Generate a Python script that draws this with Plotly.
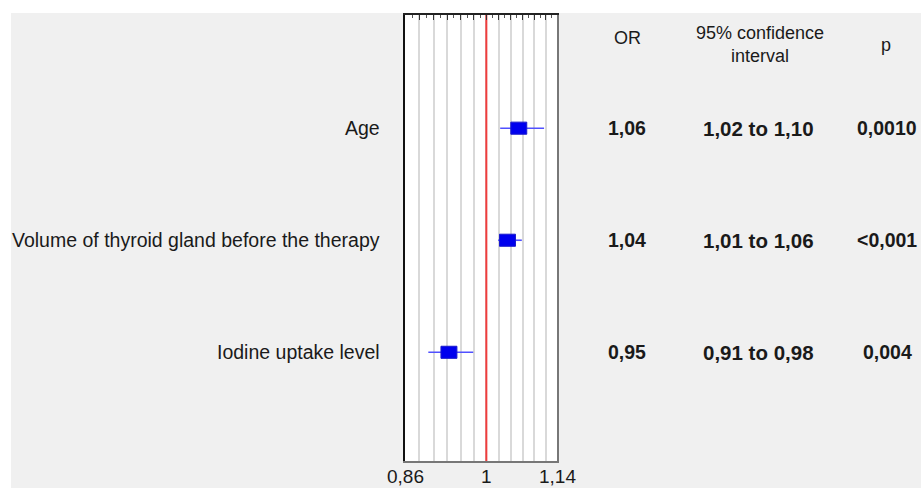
import math
import plotly.graph_objects as go

# ---------------- data ----------------
labels = ["Age", "Volume of thyroid gland before the therapy", "Iodine uptake level"]
row_pos = [3, 2, 1]
or_plot = [1.062, 1.040, 0.933]
ci_lo_plot = [1.026, 1.022, 0.898]
ci_hi_plot = [1.113, 1.068, 0.976]
or_text = ["1,06", "1,04", "0,95"]
ci_text = ["1,02 to 1,10", "1,01 to 1,06", "0,91 to 0,98"]
p_text = ["0,0010", "<0,001", "0,004"]
x_tick_vals = [0.86, 1, 1.14]
x_tick_text = ["0,86", "1", "1,14"]
headers = ["OR", "95% confidence<br>interval", "p"]

# ---------------- layout geometry ----------------
W, H = 921, 488
L, R, T, B = 405, 557, 15, 461
XMIN, XMAX = 0.86, 1.14
YMIN, YMAX = 0.03, 4.01
FONT = "Liberation Sans, Arial, sans-serif"


def pxx(px):
    return (px - L) / (R - L)


def pxy(py):
    return (B - py) / (B - T)


grid_vals = [XMIN + k * (XMAX - XMIN) / 12 for k in range(1, 12)]
minor_vals = [XMIN + (k + 0.5) * (XMAX - XMIN) / 12 for k in range(0, 12)]

fig = go.Figure()

# dummy trace for bottom axis / right axis
fig.add_trace(go.Scatter(x=[1], y=[1], xaxis="x", yaxis="y2", mode="markers",
                         marker=dict(size=1, opacity=0), hoverinfo="skip", showlegend=False))

# red reference line at OR = 1
fig.add_trace(go.Scatter(x=[1, 1], y=[YMIN, YMAX], xaxis="x2", yaxis="y", mode="lines",
                         line=dict(color="#f03c3c", width=2), hoverinfo="skip", showlegend=False))

# CI lines
cx, cy = [], []
for lo, hi, y in zip(ci_lo_plot, ci_hi_plot, row_pos):
    cx += [lo, hi, None]
    cy += [y, y, None]
fig.add_trace(go.Scatter(x=cx, y=cy, xaxis="x2", yaxis="y", mode="lines",
                         line=dict(color="#5050ff", width=1.6), hoverinfo="skip", showlegend=False))

# OR boxes
fx, fy = 1.0149, 0.054
bx, by = [], []
for o, y in zip(or_plot, row_pos):
    bx += [o / fx, o * fx, o * fx, o / fx, o / fx, None]
    by += [y - fy, y - fy, y + fy, y + fy, y - fy, None]
fig.add_trace(go.Scatter(x=bx, y=by, xaxis="x2", yaxis="y", mode="lines", fill="toself",
                         fillcolor="#0000ee", line=dict(color="#1a1acc", width=1),
                         hoverinfo="skip", showlegend=False))

annotations = []
# row labels
for lab, y in zip(labels, row_pos):
    annotations.append(dict(text=lab, xref="paper", yref="y", x=pxx(382), y=y,
                            xanchor="right", yanchor="middle", showarrow=False,
                            font=dict(family=FONT, size=19.5, color="#1a1a1a")))
# table values
col_x = [627, 758, 887]
col_size = [19.5, 20.5, 19.5]
for y, a, b, c in zip(row_pos, or_text, ci_text, p_text):
    for txt, cxp, fs in zip([a, b, c], col_x, col_size):
        annotations.append(dict(text="<b>%s</b>" % txt, xref="paper", yref="y", x=pxx(cxp), y=y,
                                xanchor="center", yanchor="middle", showarrow=False,
                                font=dict(family=FONT, size=fs, color="#1a1a1a")))
# headers
head_y = [38, 45, 45]
for txt, cxp, hy in zip(headers, [627, 760, 886], head_y):
    annotations.append(dict(text=txt, xref="paper", yref="paper", x=pxx(cxp), y=pxy(hy),
                            xanchor="center", yanchor="middle", showarrow=False,
                            font=dict(family=FONT, size=18, color="#1a1a1a")))
# bottom axis tick labels (placed on the log x axis)
for v, t in zip(x_tick_vals, x_tick_text):
    annotations.append(dict(text=t, xref="x", yref="paper", x=math.log10(v), y=pxy(476),
                            xanchor="center", yanchor="middle", showarrow=False,
                            font=dict(family=FONT, size=19, color="#1a1a1a")))

shapes = [
    dict(type="rect", xref="paper", yref="paper", x0=pxx(0), x1=pxx(11), y0=pxy(H + 5), y1=pxy(-5),
         fillcolor="white", line=dict(width=0), layer="below"),
    dict(type="rect", xref="paper", yref="paper", x0=pxx(-5), x1=pxx(W + 5), y0=pxy(13), y1=pxy(-5),
         fillcolor="white", line=dict(width=0), layer="below"),
]

lr = [math.log10(XMIN), math.log10(XMAX)]

fig.update_layout(
    width=W, height=H,
    margin=dict(l=L, r=W - R, t=T, b=H - B, pad=0, autoexpand=False),
    paper_bgcolor="#f0f0f0",
    plot_bgcolor="white",
    showlegend=False,
    annotations=annotations,
    shapes=shapes,
    xaxis=dict(type="log", range=lr, tickvals=x_tick_vals, showticklabels=False,
               ticks="", showgrid=False, zeroline=False, showline=True, automargin=False,
               linecolor="#777777", linewidth=1.5),
    xaxis2=dict(type="log", range=lr, overlaying="x", side="top", anchor="y", automargin=False,
                tickvals=grid_vals, showticklabels=False, ticks="inside", ticklen=5,
                tickcolor="#333333", tickwidth=1.2,
                showgrid=True, gridcolor="#d9d9d9", gridwidth=1.6, zeroline=False,
                showline=True, linecolor="#222222", linewidth=1.5,
                minor=dict(tickvals=minor_vals, ticks="inside", ticklen=3,
                           tickcolor="#555555", showgrid=False)),
    yaxis=dict(range=[YMIN, YMAX], showline=True, linecolor="#111111", linewidth=2, automargin=False,
               ticks="", showticklabels=False, showgrid=False, zeroline=False),
    yaxis2=dict(range=[YMIN, YMAX], overlaying="y", side="right", anchor="x", automargin=False,
                tickvals=row_pos, ticks="inside", ticklen=6, tickcolor="#555555",
                showticklabels=False, showgrid=False, zeroline=False,
                showline=True, linecolor="#777777", linewidth=1.5),
)

fig.write_html("out.html", config={"displayModeBar": False},
               post_script="document.body.style.margin='0';document.body.style.overflow='hidden';")
